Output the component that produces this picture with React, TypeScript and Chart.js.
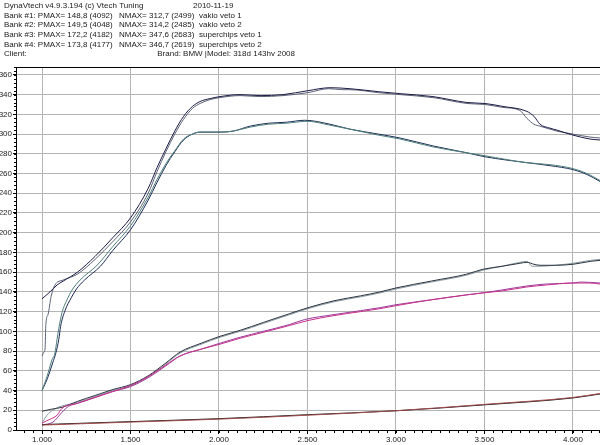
import React, { useEffect, useRef } from "react";
import { Chart, registerables } from "chart.js";

Chart.register(...registerables);

// header / legend text
const softwareLine = "DynaVtech v4.9.3.194 (c) Vtech Tuning";
const dateText = "2010-11-19";
const bankLabels = ["Bank #1:", "Bank #2:", "Bank #3:", "Bank #4:"];
const bankNames = ["vakio veto 1", "vakio veto 2", "superchips veto 1", "superchips veto 2"];
const pmaxValues = [148.8, 149.5, 172.2, 173.8];
const pmaxRpm = [4092, 4048, 4182, 4177];
const nmaxValues = [312.7, 314.2, 347.6, 346.7];
const nmaxRpm = [2499, 2485, 2683, 2619];
const clientText = "Client:";
const brandText = "Brand: BMW |Model: 318d 143hv 2008";

// axes
const xTicks = [1000, 1500, 2000, 2500, 3000, 3500, 4000];
const xTickLabels = ["1.000", "1.500", "2.000", "2.500", "3.000", "3.500", "4.000"];
const yTicks = [0, 20, 40, 60, 80, 100, 120, 140, 160, 180, 200, 220, 240, 260, 280, 300, 320, 340, 360];

// torque, bank 1 (vakio veto 1)
const torqueRpm1 = [1000, 1028, 1056, 1073, 1085, 1095, 1113, 1141, 1170, 1215, 1311, 1400, 1500, 1600, 1650, 1700, 1750, 1800, 1850, 1893, 2006, 2080, 2175, 2280, 2380, 2499, 2627, 2740, 2900, 3023, 3209, 3401, 3503, 3740, 3870, 4000, 4080, 4153];
const torque1 = [40, 54, 71, 78, 92, 103, 119, 132, 142, 152, 167, 186, 207, 236, 254, 270, 283, 295, 300, 302, 302, 303, 307, 310, 311, 313, 309, 305, 299, 295, 287, 281, 278, 271, 269, 265, 260, 253];

// torque, bank 2 (vakio veto 2)
const torqueRpm2 = [1000, 1030, 1060, 1078, 1095, 1105, 1130, 1165, 1195, 1240, 1330, 1400, 1500, 1600, 1650, 1700, 1750, 1800, 1850, 1893, 2006, 2080, 2175, 2280, 2380, 2485, 2627, 2740, 2900, 3023, 3209, 3401, 3503, 3740, 3870, 4000, 4080, 4153];
const torque2 = [40, 52, 68, 78, 92, 105, 121, 134, 143, 152, 166, 182, 203, 233, 251, 268, 282, 294, 300, 302, 302, 303, 308, 311, 312, 314, 310, 305, 300, 296, 288, 281, 277, 271, 268, 264, 259, 252];

// torque, bank 3 (superchips veto 1)
const torqueRpm3 = [1000, 1045, 1085, 1120, 1200, 1300, 1400, 1500, 1600, 1650, 1700, 1750, 1800, 1850, 1893, 1950, 2006, 2119, 2232, 2362, 2503, 2627, 2740, 2900, 3023, 3209, 3401, 3503, 3605, 3740, 3780, 3814, 3870, 3910, 4000, 4096, 4153];
const torque3 = [133, 140, 147, 151, 160, 176, 195, 215, 245, 266, 285, 303, 318, 328, 333, 336, 338, 340, 339, 340, 344, 347, 346, 343, 341, 338, 332, 331, 328, 323, 318, 310, 306, 304, 299, 295, 294];

// torque, bank 4 (superchips veto 2)
const torqueRpm4 = [1000, 1011, 1017, 1022, 1034, 1051, 1073, 1119, 1200, 1300, 1400, 1500, 1600, 1650, 1700, 1750, 1800, 1850, 1893, 1950, 2006, 2119, 2232, 2362, 2503, 2619, 2700, 2740, 2900, 3023, 3209, 3401, 3503, 3605, 3700, 3740, 3780, 3814, 3870, 3910, 4000, 4096, 4153];
const torque4 = [75, 79, 82, 108, 117, 135, 147, 152, 158, 173, 191, 211, 240, 262, 282, 300, 315, 326, 331, 335, 337, 339, 338, 339, 342, 346, 345, 345, 342, 340, 337, 331, 330, 327, 324, 316, 310, 308, 305, 303, 300, 297, 296];

// power, bank 1
const powerRpm1 = [1000, 1034, 1085, 1113, 1200, 1300, 1400, 1500, 1600, 1700, 1780, 1900, 2006, 2119, 2250, 2400, 2503, 2650, 2800, 2910, 3000, 3200, 3400, 3492, 3600, 3740, 3850, 4000, 4092, 4153];
const power1 = [7, 10, 15, 22, 27, 33, 39, 45, 54, 66, 75, 82, 87, 93, 99, 106, 111, 116, 120, 123, 126, 132, 137, 139, 141, 145, 147, 149, 149, 148];

// power, bank 2
const powerRpm2 = [1000, 1062, 1113, 1150, 1200, 1300, 1400, 1500, 1600, 1700, 1780, 1900, 2006, 2119, 2250, 2400, 2485, 2650, 2800, 2910, 3000, 3200, 3400, 3492, 3600, 3740, 3850, 4000, 4048, 4153];
const power2 = [5, 8, 18, 24, 27, 33, 39, 44, 53, 65, 75, 82, 88, 94, 100, 107, 112, 117, 121, 124, 127, 132, 137, 139, 142, 146, 148, 149, 150, 149];

// power, bank 3
const powerRpm3 = [1000, 1050, 1113, 1200, 1300, 1400, 1500, 1600, 1700, 1780, 1900, 2006, 2119, 2250, 2400, 2503, 2650, 2800, 2910, 3000, 3200, 3400, 3492, 3600, 3700, 3740, 3780, 3814, 3900, 4000, 4100, 4153];
const power3 = [19, 21, 23, 29, 35, 41, 46, 55, 68, 79, 88, 95, 101, 109, 118, 124, 131, 136, 140, 144, 151, 158, 163, 166, 169, 170, 168, 167, 167, 168, 171, 172];

// power, bank 4
const powerRpm4 = [1000, 1010, 1028, 1060, 1090, 1200, 1300, 1400, 1500, 1600, 1700, 1780, 1900, 2006, 2119, 2250, 2400, 2503, 2650, 2800, 2910, 3000, 3200, 3400, 3492, 3600, 3700, 3740, 3770, 3814, 3900, 4000, 4100, 4153];
const power4 = [7, 10, 15, 20, 23, 28, 34, 40, 45, 54, 67, 78, 87, 94, 100, 108, 117, 123, 130, 135, 139, 143, 150, 157, 162, 166, 170, 171, 166, 166, 167, 169, 172, 173];

// loss lines at the bottom
const lossRpm = [1000, 1500, 2000, 2500, 3000, 3500, 4000, 4153];
const lossA = [5, 8, 11, 15, 19.5, 26, 33, 37];
const lossB = [5.5, 8.5, 11.5, 15.5, 19.5, 25.5, 32.5, 36.5];

const FONT = "Liberation Sans, Arial, sans-serif";

const fmt = (v: number) => v.toFixed(1).replace(".", ",");

const pts = (xs: number[], ys: number[]) => xs.map((x, i) => ({ x, y: ys[i] }));

const line = (label: string, xs: number[], ys: number[], color: string) => ({
  label,
  data: pts(xs, ys),
  borderColor: color,
  backgroundColor: color,
  borderWidth: 1,
  pointRadius: 0,
  cubicInterpolationMode: "monotone" as const,
  fill: false,
});

const headerPlugin = {
  id: "dynoHeader",
  afterDraw(chart: any) {
    const { ctx, chartArea, scales } = chart;
    ctx.save();
    // top frame line
    ctx.strokeStyle = "#000";
    ctx.lineWidth = 1;
    ctx.beginPath();
    ctx.moveTo(chartArea.left, chartArea.top + 0.5);
    ctx.lineTo(chartArea.right, chartArea.top + 0.5);
    ctx.stroke();

    // minor ticks
    const xs = scales.x;
    const ys = scales.y;
    ctx.beginPath();
    for (let v = 900; v <= 4150; v += 50) {
      const px = Math.round(xs.getPixelForValue(v)) + 0.5;
      if (px < chartArea.left || px > chartArea.right) continue;
      ctx.moveTo(px, chartArea.bottom);
      ctx.lineTo(px, chartArea.bottom + 3);
    }
    for (let v = 0; v <= 368; v += 4) {
      const py = Math.round(ys.getPixelForValue(v)) + 0.5;
      ctx.moveTo(chartArea.left - 2, py);
      ctx.lineTo(chartArea.left, py);
    }
    ctx.stroke();

    // header text
    ctx.fillStyle = "#1a1a1a";
    ctx.font = `8px ${FONT}`;
    ctx.textBaseline = "middle";
    const lh = 9.6;
    const y0 = 6;
    ctx.textAlign = "left";
    ctx.fillText(softwareLine, 4, y0);
    ctx.fillText(dateText, 193, y0);
    bankLabels.forEach((b, i) => {
      const y = y0 + lh * (i + 1);
      ctx.fillText(`${b} PMAX= ${fmt(pmaxValues[i])} (${pmaxRpm[i]})`, 4, y);
      ctx.fillText(`NMAX= ${fmt(nmaxValues[i])} (${nmaxRpm[i]})`, 119, y);
      ctx.fillText(bankNames[i], 199, y);
    });
    ctx.fillText(clientText, 4, y0 + lh * 5);
    ctx.textAlign = "right";
    ctx.fillText(brandText, 295, y0 + lh * 5);
    ctx.restore();
  },
};

export default function App() {
  const canvasRef = useRef<HTMLCanvasElement>(null);
  const chartRef = useRef<Chart | null>(null);

  useEffect(() => {
    if (!canvasRef.current) return;
    if (chartRef.current) chartRef.current.destroy();

    chartRef.current = new Chart(canvasRef.current, {
      type: "line",
      data: {
        datasets: [
          line("loss A", lossRpm, lossA, "#a24a4a"),
          line("loss B", lossRpm, lossB, "#1e1e1e"),
          line(`${bankNames[0]} P`, powerRpm1, power1, "#c8308a"),
          line(`${bankNames[1]} P`, powerRpm2, power2, "#9a3c9e"),
          line(`${bankNames[2]} P`, powerRpm3, power3, "#2c3440"),
          line(`${bankNames[3]} P`, powerRpm4, power4, "#8a9aa2"),
          line(`${bankNames[0]} N`, torqueRpm1, torque1, "#4f807c"),
          line(`${bankNames[1]} N`, torqueRpm2, torque2, "#1c2a58"),
          line(`${bankNames[2]} N`, torqueRpm3, torque3, "#1c1c48"),
          line(`${bankNames[3]} N`, torqueRpm4, torque4, "#5c6474"),
        ] as any,
      },
      options: {
        responsive: false,
        animation: false,
        layout: { padding: { top: 67, left: 0, right: 0, bottom: 0 } },
        plugins: {
          legend: { display: false },
          tooltip: { enabled: false },
          title: { display: false },
        },
        scales: {
          x: {
            type: "linear",
            min: 853,
            max: 4153,
            afterBuildTicks: (axis: any) => {
              axis.ticks = xTicks.map((value) => ({ value }));
            },
            afterFit: (axis: any) => {
              axis.height = 15;
            },
            ticks: {
              autoSkip: false,
              maxRotation: 0,
              padding: 1,
              color: "#1a1a1a",
              font: { family: FONT, size: 8 },
              callback: (v: any) => {
                const i = xTicks.indexOf(Number(v));
                return i >= 0 ? xTickLabels[i] : "";
              },
            },
            grid: { color: "#b4b4b4", tickColor: "#000", tickLength: 4, lineWidth: 1 },
            border: { color: "#000", width: 1 },
          },
          y: {
            type: "linear",
            min: 0,
            max: 368,
            afterBuildTicks: (axis: any) => {
              axis.ticks = yTicks.map((value) => ({ value }));
            },
            afterFit: (axis: any) => {
              axis.width = 16;
            },
            ticks: {
              autoSkip: false,
              padding: 1,
              color: "#1a1a1a",
              font: { family: FONT, size: 8 },
              callback: (v: any) => String(v),
            },
            grid: { color: "#b4b4b4", tickColor: "#000", tickLength: 3, lineWidth: 1 },
            border: { color: "#000", width: 1 },
          },
        },
      },
      plugins: [headerPlugin],
    });

    return () => {
      chartRef.current?.destroy();
      chartRef.current = null;
    };
  }, []);

  return (
    <div style={{ position: "fixed", left: 0, top: 0, width: 600, height: 445, background: "#fff" }}>
      <canvas ref={canvasRef} width={600} height={445} style={{ width: 600, height: 445 }} />
    </div>
  );
}
